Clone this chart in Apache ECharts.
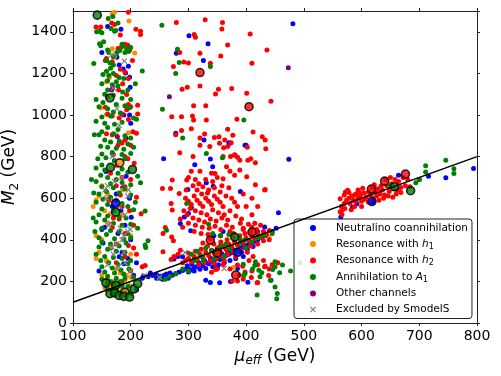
<!DOCTYPE html>
<html>
<head>
<meta charset="utf-8">
<script src="https://cdn.jsdelivr.net/npm/echarts@6/dist/echarts.min.js"></script>
<style>
  html, body { margin: 0; padding: 0; background: #fff; }
  #chart { width: 501px; height: 376px; }
</style>
</head>
<body>
<div id="chart"></div>
<script>
// legend names
var channelNames = ['Neutralino coannihilation', 'Resonance with h1', 'Resonance with h2',
  'Annihilation to A1', 'Other channels', 'Excluded by SmodelS'];

var xTicks = [100, 200, 300, 400, 500, 600, 700, 800];
var yTicks = [0, 200, 400, 600, 800, 1000, 1200, 1400];

// M2 = mu_eff reference line
var lineX = [100, 800];
var lineY = [100, 800];

// Neutralino coannihilation (blue)
var bluePts = [
  [160,1426],[183,1412],[176,1278],[180,1240],[187,1221],[191,1202],[198,1182],[196,1234],[199,1134],[198,1000],
  [192,888],[172,780],[196,1320],[150,1300],[188,1000],[200,960],[175,620],[186,650],[198,600],[183,540],
  [155,460],[190,470],[178,430],[200,400],[165,360],[185,340],[195,310],[210,290],[145,250],[205,230],
  [220,215],[210,160],[150,450],[188,285],[157,728],[192,705],[168,560],[201,508],[152,385],[180,318],
  [222,225],[230,222],[238,228],[245,232],[252,225],[258,230],[262,236],[268,240],[272,230],[278,238],
  [284,245],[290,252],[295,260],[300,262],[305,255],[310,268],[315,272],[320,280],[325,275],[330,290],
  [335,285],[340,298],[345,300],[350,310],[355,305],[360,318],[365,325],[370,330],[375,338],[380,345],
  [385,352],[390,360],[395,365],[400,372],[405,380],[410,388],[415,392],[420,400],[428,410],[436,420],
  [445,440],[452,455],[298,275],[306,282],[318,290],[328,300],[338,312],[348,322],[358,332],[368,342],
  [378,352],[392,340],[402,355],[412,368],[300,245],[310,250],[320,258],[330,262],[342,270],[352,280],
  [362,290],[372,300],[382,310],[395,320],[290,318],[282,320],[275,308],[265,215],[255,210],[245,215],[234,240],
  [354,193],[373,199],[403,196],[443,206],[350,267],[343,296],[385,262],[330,205],[338,195],
  [481,1439],[301,1381],[334,1342],[326,1262],[279,1297],[327,880],[338,788],[342,751],[311,761],[257,790],
  [278,912],[372,864],[400,854],[474,787],[390,632],[343,658],[331,674],[456,530],[432,462],[299,642],
  [300,527],[304,443],[293,510],[370,867],[398,855],[344,420],[360,440],[420,440],[286,478],[305,555],
  [664,710],[716,706],[746,698],[794,743],[592,573],[584,557],[564,510],[700,690],[620,580]
];

// Resonance with h1 (orange)
var orangePts = [
  [168,1487],[172,1494],[197,1452],[207,1298],[168,1318],[172,1280],[163,1180],[158,1160],[148,1034],[158,1002],
  [196,915],[175,905],[135,560],[140,590],[145,610],[160,620],[150,660],[186,640],[155,540],[165,525],
  [140,420],[150,400],[200,420],[165,365],[145,340],[158,300],[175,260],[150,230],[160,210],[170,200],
  [180,190],[190,205],[198,180],[165,175],[175,155],[185,165],[195,140],[168,135],[155,170],[188,150],
  [178,180],[200,220],[140,310],[185,520],[160,480],[378,267],[440,410],[200,330],[182,240],[192,228]
];

// Resonance with h2 (red)
var redPts = [
  [196,1494],[167,1442],[172,1435],[140,1423],[148,1423],[209,1412],[217,1403],[217,1387],[190,1340],[195,1335],
  [183,1325],[178,1320],[198,1310],[158,1272],[156,1262],[168,1256],[182,1220],[190,1205],[175,1190],[196,1175],
  [186,1150],[179,1120],[193,1098],[156,1037],[196,1050],[200,1040],[212,1047],[193,1025],[160,1005],[168,995],
  [180,985],[185,1005],[196,978],[158,910],[168,905],[210,912],[204,920],[190,880],[185,865],[178,855],
  [200,855],[170,810],[190,800],[195,790],[185,700],[165,720],[200,690],[175,660],[190,655],[210,605],
  [162,590],[185,560],[198,540],[218,525],[180,500],[205,470],[168,460],[190,430],[175,380],[205,360],
  [190,320],[175,290],[220,270],[200,250],[185,200],[160,195],[182,1385],[203,1262],[160,1085],[212,1005],
  [176,758],[206,768],[182,615],[170,505],[196,372],[210,330],
  [279,1445],[310,1387],[312,1374],[329,1458],[359,1445],[358,1413],[368,1336],[407,1390],[436,1313],[356,1284],
  [320,1297],[285,1300],[292,1255],[274,1233],[300,1250],[320,1140],[338,1249],[410,1249],[289,1124],[298,1133],
  [352,1124],[347,1101],[375,1127],[401,1104],[443,1066],[330,1044],[309,1044],[309,976],[331,976],[271,992],
  [288,992],[307,995],[288,925],[305,934],[328,909],[278,905],[320,889],[345,892],[353,896],[368,931],
  [384,979],[412,918],[428,896],[433,880],[434,838],[368,848],[360,800],[373,800],[381,806],[389,783],
  [403,783],[285,819],[308,800],[320,854],[337,848],[354,864],[416,771],[401,703],[389,735],[416,665],
  [433,642],[380,710],[366,751],[372,729],[360,694],[346,719],[297,687],[272,687],[269,647],[255,647],
  [284,623],[270,575],[272,543],[260,459],[256,430],[271,414],[274,395],[256,342],[225,276],[377,903],
  [363,880],[374,867],[361,842],[402,845],[380,809],[385,797],[408,790],
  [295,600],[300,585],[305,570],[310,610],[315,590],[320,575],[325,560],[330,600],[335,585],[340,570],
  [345,610],[350,595],[355,580],[360,560],[303,550],[312,540],[322,530],[332,520],[342,545],[352,530],
  [362,520],[372,540],[298,520],[308,505],[318,495],[328,485],[338,500],[348,490],[358,505],[368,495],
  [300,480],[312,470],[324,460],[336,455],[346,465],[356,450],[366,470],[376,460],[310,440],[322,430],
  [334,425],[315,640],[325,655],[335,640],[345,650],[355,630],[318,670],[330,690],[342,680],[308,660],
  [296,640],[365,610],[375,600],[380,580],[370,650],[385,560],[290,460],[286,500],[292,540],[300,700],
  [312,690],[340,720],[323,620],[333,625],[358,660],[320,730],[305,730],[350,700],[395,620],[400,560],
  [410,520],[404,475],[390,480],[392,500],[382,515],[378,430],[395,450],[415,480],[425,470],[432,640],
  [410,600],[420,560],
  [290,290],[295,300],[300,310],[305,295],[310,320],[315,305],[320,330],[325,315],[330,340],[335,325],
  [340,350],[345,335],[350,360],[355,345],[360,370],[365,355],[370,380],[375,365],[380,390],[385,375],
  [390,400],[395,385],[400,410],[405,395],[410,420],[415,405],[420,430],[425,415],[430,440],[435,425],
  [440,445],[300,335],[312,345],[322,355],[333,370],[344,380],[356,390],[367,400],[378,410],[389,420],
  [398,430],[408,440],[418,450],[328,290],[338,300],[348,310],[358,320],[368,330],[378,340],[388,350],
  [398,360],[408,370],[318,280],[345,285],[362,300],[382,320],[402,340],[420,380],[430,395],[440,400],
  [282,330],[275,320],[270,305],[286,350],[395,455],[410,460],[372,440],[355,420],[338,405],[325,385],
  [405,300],[412,320],[420,280],[430,300],[432,270],[440,260],[410,250],[398,245],[388,230],[395,210],
  [420,195],[340,244],[347,257],[350,260],[360,280],[372,260],[385,279],[394,273],[409,219],[419,193],
  [433,273],[439,228],[376,202],[385,202],[445,280],[455,290],
  [563,597],[565,560],[567,545],[570,615],[574,590],[578,600],[580,575],[583,610],[586,590],[590,620],
  [594,600],[598,612],[600,585],[604,625],[608,605],[612,630],[615,615],[620,600],[624,630],[628,645],
  [632,620],[636,640],[640,615],[644,660],[648,632],[652,670],[656,645],[660,620],[664,680],[668,652],
  [672,700],[676,660],[680,690],[658,690],[646,610],[626,610],[606,595],[588,615],[572,630],[570,575],
  [596,628],[618,650],[634,660],[662,640],[650,700],[642,690],
  [563,535],[566,522],[571,550],[576,638],[582,545],[588,560],[594,640],[600,560],[602,648],[612,580],
  [622,665],[630,590],[638,600],[654,605],[668,628],[684,655],[590,585],[578,628]
];

// Annihilation to A1 (green)
var greenPts = [
  [161,1464],[169,1474],[178,1442],[141,1400],[146,1403],[150,1395],[172,1403],[174,1406],[166,1416],[153,1352],
  [146,1342],[148,1333],[186,1330],[193,1318],[181,1310],[200,1325],[190,1300],[196,1305],[185,1340],[176,1300],
  [162,1300],[158,1262],[164,1250],[170,1280],[160,1312],[220,1211],[254,1432],
  [170,1240],[165,1225],[158,1210],[152,1195],[162,1190],[170,1200],[180,1180],[188,1175],[175,1160],[160,1165],
  [168,1145],[150,1150],[178,1140],[186,1110],[195,1120],[160,1120],[155,1100],[170,1095],[185,1080],[200,1075],
  [140,1075],[152,1060],[145,1040],[160,1030],[175,1050],[190,1045],[198,1035],[170,1015],[182,1010],
  [150,990],[165,995],[205,985],[210,980],[140,970],[155,960],[172,955],[185,965],[160,940],[178,930],
  [150,920],[145,905],[170,910],[190,900],[200,890],[155,880],[165,870],[180,875],[195,860],[148,850],
  [160,845],[175,840],[188,835],[205,845],[168,820],[185,810],[150,812],[200,815],
  [143,790],[157,795],[172,780],[190,790],[150,760],[140,745],[155,735],[185,740],[195,725],[178,720],
  [148,710],[160,700],[175,690],[132,690],[140,680],[165,670],[185,675],[200,665],[150,655],[170,650],
  [190,645],[158,632],[145,620],[180,625],[200,615],[165,605],[152,595],[175,590],
  [140,580],[160,570],[185,575],[195,560],[150,548],[170,540],[205,545],[145,520],[160,515],[180,510],
  [192,505],[155,495],[140,485],[170,480],[185,470],[200,475],[150,455],[165,445],[180,440],[195,430],
  [158,425],[145,410],[172,405],[188,400],[200,410],[225,375],[230,395],[138,440],
  [150,390],[165,380],[180,370],[192,385],[145,365],[160,355],[175,345],[190,340],[140,330],[155,320],
  [170,315],[185,310],[200,300],[148,300],[162,290],[178,280],[195,285],[150,270],[168,265],[183,255],
  [197,260],[155,245],[172,240],[188,235],[160,225],[175,215],[190,215],[205,220],[165,200],[182,200],
  [150,210],[170,185],[185,180],[158,175],[195,175],[175,165],[188,160],[160,160],[168,150],[180,145],
  [195,150],[200,140],[136,1248],[208,1150],[137,905],[212,705],[136,625],[208,580],[135,505],[212,455],
  [281,1316],[284,1252],[278,1199],[338,1233],[255,1028],[290,889],[331,815],[359,795],[396,976],[262,446],
  [226,363],[225,539],[217,674],[297,575],
  [305,330],[315,345],[322,320],[330,360],[340,350],[348,330],[355,370],[365,380],[372,355],[390,385],
  [398,400],[410,390],[420,410],[430,420],[445,430],[312,300],[326,300],[345,310],[362,320],[385,345],
  [400,360],[250,215],[260,210],[268,225],[278,235],[290,260],[300,250],[335,475],[342,430],[356,420],
  [370,425],[388,410],
  [415,277],[422,254],[427,241],[424,222],[450,270],[458,241],[463,279],[477,250],[450,173],[454,142],
  [453,116],[419,135],[396,228],[442,206],[416,295],[446,257],[450,294],[411,260],[395,283],[398,238],
  [493,290],
  [711,756],[711,726],[746,783],[760,742],[760,719],[694,674],[650,660],[700,690]
];

// Other channels (purple)
var purplePts = [[169,1134],[177,896],[473,1227],[267,1088],[167,1120]];

// Excluded by SmodelS (grey crosses)
var greyPts = [
  [167,1291],[189,1259],[170,1130],[180,950],[168,800],[160,660],[158,600],[170,590],[180,560],[195,610],
  [190,520],[165,480],[195,440],[188,420],[175,380],[185,400],[170,330],[160,280],[190,290],[200,250],
  [178,270],[188,340],[162,470],[199,450],[172,680],[185,700],[224,228],[294,339],[362,262],[657,655],[250,220],
  [155,640],[182,455],[168,365],[196,640],[176,1030]
];

// points with a black edge
var edgeGreen = [
  [142,1480],[164,1082],[165,748],[203,738],[174,533],[380,413],[685,636],[657,655],[157,193],[164,141],
  [172,145],[180,132],[188,128],[198,125],[206,164],[212,189],[174,181]
];
var edgeOrange = [[181,770],[190,148]];
var edgeRed = [[320,1204],[405,1040],[338,398],[410,437],[350,337],[382,231],[617,644],[640,682],[676,716]];
var edgeBlue = [[174,576],[385,340],[618,584]];

var FONT = 'DejaVu Sans';
var crossPath = 'path://M0,1.4L1.4,0L5,3.6L8.6,0L10,1.4L6.4,5L10,8.6L8.6,10L5,6.4L1.4,10L0,8.6L3.6,5Z';

function dots(name, data, color, symbol, size) {
  return {
    name: name,
    type: 'scatter',
    data: data,
    symbol: symbol || 'circle',
    symbolSize: size || 5,
    itemStyle: { color: color, opacity: 1 },
    emphasis: { disabled: true },
    silent: true,
    z: 2
  };
}

function edged(data, color) {
  return {
    type: 'scatter',
    data: data,
    symbolSize: 8,
    itemStyle: { color: color, borderColor: '#000', borderWidth: 1.6 },
    silent: true,
    z: 3
  };
}

var chart = echarts.init(document.getElementById('chart'), null, { renderer: 'canvas' });

var axisCommon = {
  type: 'value',
  axisLine: { show: true, onZero: false, lineStyle: { color: '#222', width: 1 } },
  axisTick: { show: true, inside: false, length: 3, lineStyle: { color: '#222' } },
  splitLine: { show: false }
};

function plain(v) { return String(v); }

var option = {
  animation: false,
  textStyle: { fontFamily: FONT },
  // fixed plot box, no automatic shrinking for labels
  grid: { left: 73, right: 24, top: 11, bottom: 53, outerBoundsMode: 'none', containLabel: false },
  xAxis: [
    Object.assign({}, axisCommon, {
      min: xTicks[0], max: xTicks[xTicks.length - 1], interval: 100,
      name: '{m|μ}{s|eff}{n| (GeV)}',
      nameLocation: 'middle',
      nameGap: 23,
      nameTextStyle: {
        rich: {
          m: { fontSize: 17, fontStyle: 'italic', fontFamily: FONT, color: '#000' },
          s: { fontSize: 12, fontStyle: 'italic', fontFamily: FONT, color: '#000', padding: [9, 0, 0, 0] },
          n: { fontSize: 17, fontFamily: FONT, color: '#000' }
        }
      },
      axisLabel: { fontSize: 14, color: '#000', margin: 6, fontFamily: FONT, formatter: plain }
    }),
    Object.assign({}, axisCommon, {
      position: 'top', min: 100, max: 800, interval: 100,
      axisLabel: { show: false }
    })
  ],
  yAxis: [
    Object.assign({}, axisCommon, {
      min: yTicks[0], max: 1500, interval: 200,
      name: '{m|M}{s|2}{n| (GeV)}',
      nameLocation: 'middle',
      nameGap: 48,
      nameTextStyle: {
        rich: {
          m: { fontSize: 17, fontStyle: 'italic', fontFamily: FONT, color: '#000' },
          s: { fontSize: 12, fontFamily: FONT, color: '#000', padding: [9, 0, 0, 0] },
          n: { fontSize: 17, fontFamily: FONT, color: '#000' }
        }
      },
      axisLabel: { fontSize: 14, color: '#000', margin: 6, fontFamily: FONT, showMaxLabel: false, formatter: plain }
    }),
    Object.assign({}, axisCommon, {
      position: 'right', min: 0, max: 1500, interval: 200,
      axisLabel: { show: false }
    })
  ],
  legend: {
    data: channelNames,
    orient: 'vertical',
    left: 294,
    top: 219,
    itemWidth: 6,
    itemHeight: 6,
    itemGap: 4,
    padding: [3, 4, 3, 16],
    backgroundColor: 'rgba(255,255,255,0.85)',
    borderColor: '#222',
    borderWidth: 1,
    borderRadius: 3,
    selectedMode: false,
    // the sp token keeps a gap between marker and label
    formatter: function (name) {
      if (name === 'Resonance with h1') return '{sp|}Resonance with {i|h}{s|1}';
      if (name === 'Resonance with h2') return '{sp|}Resonance with {i|h}{s|2}';
      if (name === 'Annihilation to A1') return '{sp|}Annihilation to {i|A}{s|1}';
      return '{sp|}' + name;
    },
    textStyle: {
      fontSize: 10.5, color: '#000', fontFamily: FONT, lineHeight: 12,
      rich: {
        sp: { width: 15 },
        i: { fontSize: 10.5, fontStyle: 'italic', fontFamily: FONT, color: '#000' },
        s: { fontSize: 8, fontFamily: FONT, color: '#000', padding: [5, 0, 0, 0] }
      }
    }
  },
  series: [
    dots(channelNames[0], bluePts, '#0000ff'),
    dots(channelNames[1], orangePts, '#ff8c00'),
    dots(channelNames[2], redPts, '#ff0000'),
    dots(channelNames[3], greenPts, '#008000'),
    dots(channelNames[4], purplePts, '#800080'),
    dots(channelNames[5], greyPts, '#808080', crossPath, 6),
    edged(edgeBlue, '#0000ff'),
    edged(edgeOrange, '#ff8c00'),
    edged(edgeRed, '#ff0000'),
    edged(edgeGreen, '#008000'),
    {
      type: 'line',
      data: lineX.map(function (x, i) { return [x, lineY[i]]; }),
      symbol: 'none',
      lineStyle: { color: '#000', width: 1.5 },
      silent: true,
      z: 4
    }
  ]
};

chart.setOption(option);
</script>
</body>
</html>
